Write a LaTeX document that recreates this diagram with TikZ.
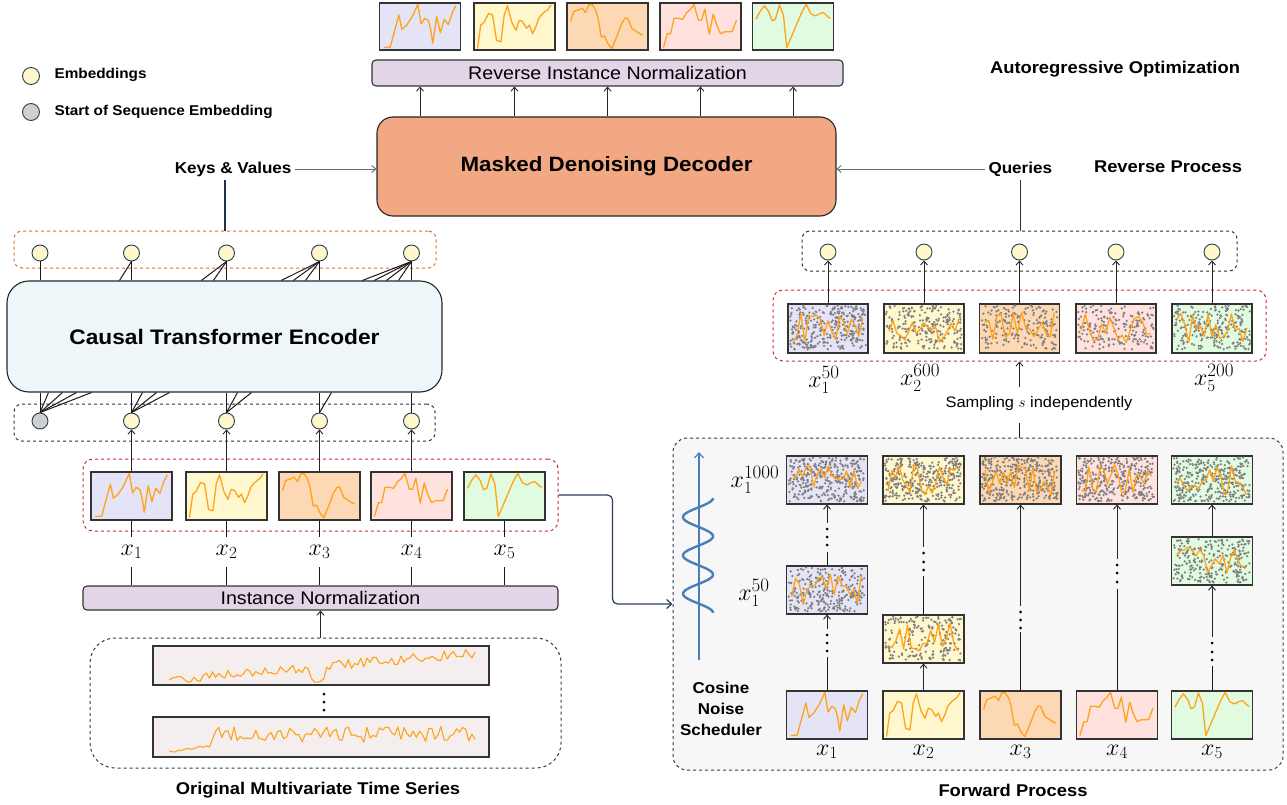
\RequirePackage{fix-cm}
\documentclass[tikz,border=0pt]{standalone}
\usepackage{fontspec}
\setmainfont{Liberation Sans}[FakeStretch=1.08]
\usetikzlibrary{arrows.meta,calc}

\definecolor{embd}{HTML}{2B3E50}
\definecolor{embf}{HTML}{FFF8CC}
\definecolor{sosf}{HTML}{D0D0D0}
\definecolor{decf}{HTML}{F2A882}
\definecolor{encf}{HTML}{EEF6FA}
\definecolor{normf}{HTML}{E1D5E7}
\definecolor{pblue}{HTML}{E4E4F6}
\definecolor{pyel}{HTML}{FFF7CE}
\definecolor{porg}{HTML}{FDD8B4}
\definecolor{ppink}{HTML}{FFE1DE}
\definecolor{pgrn}{HTML}{E0FBDF}
\definecolor{tsf}{HTML}{F4EEEE}
\definecolor{tsor}{HTML}{FFA31A}
\definecolor{noisec}{HTML}{7F7F7F}
\definecolor{reddash}{HTML}{D42A2A}
\definecolor{orgdash}{HTML}{E0692F}
\definecolor{navy}{HTML}{2A3F57}
\definecolor{wavec}{HTML}{4A7DBA}
\definecolor{fwdf}{HTML}{F7F7F7}
\definecolor{kqarr}{HTML}{5C6F80}
\definecolor{pbd}{HTML}{333333}

\tikzset{
  arr/.style={-{Straight Barb[length=4pt,width=7pt]}, line width=0.9pt, draw=black!85},
  plain/.style={line width=1pt, draw=black!90},
  emb/.style={circle, draw=embd, fill=embf, line width=0.9pt, minimum size=16pt, inner sep=0pt},
  sos/.style={emb, fill=sosf},
  patch/.style={draw=pbd, line width=1.1pt, minimum width=81pt, minimum height=48pt, inner sep=0pt},
  ts/.style={draw=tsor, line width=1.3pt, line join=round},
  normbar/.style={draw=pbd, line width=1.1pt, fill=normf, rounded corners=4pt, inner sep=0pt, font=\fontsize{18.2}{20}\selectfont},
  dashbox/.style={dashed, line width=1pt, rounded corners=8pt, inner sep=0pt},
  lab/.style={font=\fontsize{15.8}{18}\selectfont\bfseries},
  ttl/.style={font=\fontsize{17}{20}\selectfont\bfseries},
  legt/.style={font=\fontsize{14.2}{16}\selectfont\bfseries, anchor=west},
  xlab/.style={font=\fontsize{24}{28}\selectfont, inner sep=0pt, minimum height=30pt},
}
% label x_{sub}^{sup} with enlarged indices
\newcommand\subidx[1]{\mbox{\fontsize{17}{17}\selectfont$#1$}}
\newcommand\supidx[1]{\mbox{\fontsize{19}{19}\selectfont$#1$}}
\newcommand\xsub[1]{$x_{\subidx{#1}}$}
\newcommand\xsubsup[2]{$x_{\subidx{#1}}^{\supidx{#2}}$}

\newcommand\cvA{\draw[ts] (5.7,94) -- (13.9,93) -- (24.6,26) -- (28.3,56) -- (34.4,47) -- (40.6,31) -- (48,4) -- (52,45) -- (56.6,33) -- (61,38) -- (63.5,54) -- (66.4,85) -- (71.3,30) -- (75.8,63) -- (80.7,35) -- (85.7,46) -- (91,19) -- (95,7);}
\newcommand\cvB{\draw[ts] (5,96) -- (9,47) -- (13,42) -- (18.6,23) -- (23.6,26) -- (28.5,79) -- (33.9,82) -- (38,26) -- (42,7) -- (47.5,42) -- (52.5,58) -- (56.6,37) -- (60.7,40) -- (65.7,54) -- (69,47) -- (73,65) -- (77,51) -- (80.6,33) -- (85.5,23) -- (91.7,15) -- (95.9,5);}
\newcommand\cvC{\draw[ts] (5,40) -- (9,19) -- (15,15.5) -- (19.4,12) -- (23.5,21) -- (27.7,5) -- (31.8,5) -- (36,15.5) -- (39,33) -- (43,72) -- (47,70) -- (51.2,86) -- (56,96) -- (62,72) -- (68.2,44) -- (72.3,33) -- (75.6,33) -- (80.6,54) -- (86.8,61) -- (93.8,68);}
\newcommand\cvD{\draw[ts] (4.9,94) -- (9.8,65) -- (13.9,65) -- (18,33) -- (23.4,33) -- (28.7,35) -- (33.6,21) -- (37.7,15.5) -- (42.6,4) -- (48,37) -- (52,37) -- (56,14) -- (61.5,66) -- (66.4,24) -- (70.5,47) -- (75.4,65) -- (80.7,61) -- (86.9,61) -- (90,60) -- (95,37);}
\newcommand\cvE{\draw[ts] (5,35) -- (9.9,19) -- (15.3,7) -- (20.7,19) -- (24.8,38) -- (28.9,35) -- (33.9,5) -- (38.8,26) -- (43,94) -- (49.6,68) -- (56.6,40) -- (62,19) -- (67,4) -- (73,24) -- (78.5,28) -- (84.3,23) -- (88.4,21) -- (93.8,30) -- (96.7,33);}

\newcommand\mycurve[2]{\begin{scope}[shift={(#1.north west)},x=0.81pt,y=-0.48pt]#2\end{scope}}
\newcommand\mynoisy[3]{\begin{scope}[shift={(#1.north west)},x=0.81pt,y=-0.48pt]
  \foreach \k in {1,...,#2}{\fill[noisec] ({3+94*rnd},{4+92*rnd}) circle (1.25pt);}
  \draw[ts] plot[domain=7:93, samples=#3] (\x,{50+32*rand});
\end{scope}}

\begin{document}
\begin{tikzpicture}[x=1pt,y=-1pt]
\useasboundingbox[fill=white] (0,0) rectangle (1287,805);
\pgfmathsetseed{11}

% ---------------- legend & titles
\node[emb, minimum size=17pt] (lg1) at (31,76) {};
\node[legt] (lg1t) at (51,75) {Embeddings};
\node[sos, minimum size=17pt] (lg2) at (31,112) {};
\node[legt] (lg2t) at (51,112) {Start of Sequence Embedding};
\node[ttl] (tauto) at (1115,69) {Autoregressive Optimization};
\node[ttl] (trev) at (1168,167) {Reverse Process};
\node[ttl] (tfwd) at (1013,790) {Forward Process};
\node[ttl] (torig) at (318,790) {Original Multivariate Time Series};

% ---------------- top output plots and RIN
\foreach \i/\xx/\cc in {1/420/pblue,2/514.5/pyel,3/607.5/porg,4/700.5/ppink,5/793/pgrn}
  \node[patch, fill=\cc, minimum height=47pt] (o\i) at (\xx,26.5) {};
\mycurve{o1}{\cvA}\mycurve{o2}{\cvB}\mycurve{o3}{\cvC}\mycurve{o4}{\cvD}\mycurve{o5}{\cvE}
\node[normbar, minimum width=471pt, minimum height=26pt] (rin) at (607.5,73) {Reverse Instance Normalization};

% ---------------- decoder
\node[draw=black!85, line width=1.1pt, fill=decf, rounded corners=16pt, minimum width=459pt, minimum height=99pt, font=\fontsize{20.7}{24}\selectfont\bfseries] (dec) at (606.5,166.5) {Masked Denoising Decoder};
\foreach \i in {1,...,5} \draw[arr] (dec.north -| o\i.south) -- (rin.south -| o\i.south);

% ---------------- keys & values / queries
\node[lab, anchor=east] (kv) at (295,169) {Keys \& Values};
\node[lab, anchor=west] (qq) at (985,169) {Queries};
\draw[arr, draw=kqarr] (kv.east) -- (dec.west |- kv.east);
\draw[arr, draw=kqarr] (qq.west) -- (dec.east |- qq.west);

% ---------------- encoder
\node[draw=black!85, line width=1.1pt, fill=encf, rounded corners=22pt, minimum width=435pt, minimum height=111pt, font=\fontsize{21}{24}\selectfont\bfseries] (enc) at (224.5,336.5) {Causal Transformer Encoder};
\node[dashbox, draw=orgdash, minimum width=422pt, minimum height=37pt] (ob) at (225,249.5) {};
\node[dashbox, draw=black!80, minimum width=421pt, minimum height=37pt] (bb) at (224.5,422.5) {};
\draw[line width=1.4pt, draw=navy!80!black] (ob.north) -- (ob.north |- kv.south);

\foreach \i/\xx in {1/40,2/131.5,3/226.5,4/319.5,5/411.5}{
  \node[emb] (t\i) at (\xx,253) {};
}
\node[sos] (b1) at (40,421) {};
\foreach \i/\xx in {2/131.5,3/226.5,4/319.5,5/411.5}{
  \node[emb] (b\i) at (\xx,421) {};
}
\foreach \i in {1,...,5}{
  \draw[plain] (t\i.south) -- (t\i.south |- enc.north);
  \draw[plain] (b\i.north) -- (b\i.north |- enc.south);
}
\foreach \d in {113} \draw[plain] (t2.south) -- ($(enc.north west)+(\d,0)$);
\foreach \d in {195,207} \draw[plain] (t3.south) -- ($(enc.north west)+(\d,0)$);
\foreach \d in {275,287,299} \draw[plain] (t4.south) -- ($(enc.north west)+(\d,0)$);
\foreach \d in {356,368,380,392} \draw[plain] (t5.south) -- ($(enc.north west)+(\d,0)$);
\foreach \d in {42,56,70,85} \draw[plain] (b1.north) -- ($(enc.south west)+(\d,0)$);
\foreach \d in {136,150,163} \draw[plain] (b2.north) -- ($(enc.south west)+(\d,0)$);
\foreach \d in {231,245} \draw[plain] (b3.north) -- ($(enc.south west)+(\d,0)$);
\foreach \d in {325} \draw[plain] (b4.north) -- ($(enc.south west)+(\d,0)$);

% ---------------- left patches
\node[dashbox, draw=reddash, rounded corners=10pt, minimum width=475pt, minimum height=72pt] (lred) at (320.5,495) {};
\foreach \i/\xx/\cc in {1/131.5/pblue,2/226.5/pyel,3/319.5/porg,4/411.5/ppink,5/504.5/pgrn}{
  \node[patch, fill=\cc] (lp\i) at (\xx,496) {};
  \node[xlab] (lx\i) at (\xx,552) {\xsub{\i}};
}
\mycurve{lp1}{\cvA}\mycurve{lp2}{\cvB}\mycurve{lp3}{\cvC}\mycurve{lp4}{\cvD}\mycurve{lp5}{\cvE}
\foreach \i/\j in {1/2,2/3,3/4,4/5} \draw[arr] (lp\i.north) -- (b\j.south);

\node[normbar, minimum width=475pt, minimum height=24pt] (inn) at (320.5,598) {Instance Normalization};
\foreach \i in {1,...,5}{
  \draw[plain] (lp\i.south) -- (lx\i.north);
  \draw[plain] (lx\i.south) -- (lx\i.south |- inn.north);
}

% ---------------- original time series
\node[dashbox, draw=navy, rounded corners=25pt, minimum width=471pt, minimum height=130pt] (tsb) at (325.5,703) {};
\node[draw=pbd, line width=1.1pt, fill=tsf, minimum width=336pt, minimum height=39pt, inner sep=0pt] (s1) at (321,665.5) {};
\node[draw=pbd, line width=1.1pt, fill=tsf, minimum width=336pt, minimum height=40pt, inner sep=0pt] (s2) at (321,737) {};
\begin{scope}[shift={(s1.north west)},x=3.36pt,y=-0.39pt]
  \draw[ts, line width=1.1pt] plot[domain=5:96, samples=100] (\x,{max(6,min(94, 92-0.75*\x + 13*rand + 60*exp(-((\x-49)/2.2)^2)))});
\end{scope}
\begin{scope}[shift={(s2.north west)},x=3.36pt,y=-0.39pt]
  \draw[ts, line width=1.1pt] plot[domain=5:96, samples=100] (\x,{\x<17 ? 96-1.2*\x+3*rand : max(8,min(90,46+20*rand))});
\end{scope}
\foreach \yy in {694,702,710} \fill (324,\yy) circle (1.5pt);
\draw[arr] (tsb.north -| inn.south) -- (inn.south);

% ---------------- forward process box
\node[dashbox, draw=navy, fill=fwdf, rounded corners=14pt, minimum width=610pt, minimum height=332pt] (fwd) at (978,604) {};
\draw[line width=1.2pt, draw=navy, rounded corners=5pt, -{Straight Barb[length=5pt,width=9pt]}] (lred.east) -- ++(54,0) |- (fwd.west);

% wave + arrow
\coordinate (wa) at (699,660);
\coordinate (wb) at (699,452);
\draw[wavec, line width=1.2pt, -{Straight Barb[length=5pt,width=9pt]}] (wa) -- (wb);
\draw[wavec, line width=2.4pt] plot[domain=0:3, samples=150, smooth] ({698+15*cos(360*\x)},{498+38.3*\x});
\node[lab, align=center, font=\fontsize{15.7}{21}\selectfont\bfseries] (cns) at (721,709) {Cosine\\Noise\\Scheduler};

% forward patches
\foreach \i/\xx/\cc in {1/827/pblue,2/923.5/pyel,3/1020.5/porg,4/1117/ppink,5/1212/pgrn}{
  \node[patch, fill=\cc] (f\i) at (\xx,715) {};
  \node[patch, fill=\cc] (g\i) at (\xx,480) {};
  \node[xlab] (fx\i) at (\xx,752) {\xsub{\i}};
}
\mycurve{f1}{\cvA}\mycurve{f2}{\cvB}\mycurve{f3}{\cvC}\mycurve{f4}{\cvD}\mycurve{f5}{\cvE}
\foreach \i in {1,...,5} \mynoisy{g\i}{340}{20}
\node[patch, fill=pblue] (m1) at (827,590) {};
\node[patch, fill=pyel] (m2) at (923.5,639) {};
\node[patch, fill=pgrn] (m5) at (1212,561) {};
\mynoisy{m1}{270}{19}
\mynoisy{m2}{190}{19}
\mynoisy{m5}{260}{19}
\node[xlab] (xl1000) at (755,480) {\xsubsup{1}{1000}};
\node[xlab] (xl50) at (754,593) {\xsubsup{1}{50}};

% column connectors
\draw[plain] (f1.north) -- ++(0,-33);
\foreach \yy in {651,643,635} \fill (827,\yy) circle (1.5pt);
\draw[arr] ($(m1.south)+(0,14)$) -- (m1.south);
\draw[plain] (m1.north) -- ++(0,-13);
\foreach \yy in {545,537,529} \fill (827,\yy) circle (1.5pt);
\draw[arr] ($(g1.south)+(0,18)$) -- (g1.south);

\draw[arr] (f2.north) -- (m2.south);
\draw[plain] (m2.north) -- ++(0,-38);
\foreach \yy in {570,562,553} \fill (923.5,\yy) circle (1.5pt);
\draw[arr] ($(g2.south)+(0,42)$) -- (g2.south);

\draw[plain] (f3.north) -- ++(0,-58);
\foreach \yy in {628,620,612} \fill (1020.5,\yy) circle (1.5pt);
\draw[arr] ($(g3.south)+(0,101)$) -- (g3.south);

\draw[plain] (f4.north) -- ++(0,-101);
\foreach \yy in {582,573,565} \fill (1117,\yy) circle (1.5pt);
\draw[arr] ($(g4.south)+(0,54)$) -- (g4.south);

\draw[plain] (f5.north) -- ++(0,-24);
\foreach \yy in {660,652,643} \fill (1212,\yy) circle (1.5pt);
\draw[arr] ($(m5.south)+(0,51)$) -- (m5.south);
\draw[arr] (m5.north) -- (g5.south);

% ---------------- reverse process (sampled)
\node[dashbox, draw=black!80, minimum width=435pt, minimum height=40pt] (rb) at (1019.5,251) {};
\node[dashbox, draw=reddash, rounded corners=10pt, minimum width=493pt, minimum height=71pt] (rr) at (1019.5,325.5) {};
\foreach \i/\xx/\cc in {1/828/pblue,2/924/pyel,3/1019.5/porg,4/1116/ppink,5/1212/pgrn}{
  \node[patch, fill=\cc, minimum width=80pt, minimum height=49pt] (n\i) at (\xx,328.5) {};
  \node[emb] (r\i) at (\xx,252) {};
  \draw[arr] (n\i.north) -- (r\i.south);
}
\mynoisy{n1}{300}{19}
\mynoisy{n2}{230}{19}
\mynoisy{n3}{190}{18}
\mynoisy{n4}{190}{18}
\mynoisy{n5}{240}{19}
\draw[line width=1.4pt, draw=navy!80!black] (rb.north -| qq.south) -- (qq.south);
\node[xlab] (nl1) at (824,380) {\xsubsup{1}{50}};
\node[xlab] (nl2) at (920,378) {\xsubsup{2}{600}};
\node[xlab] (nl5) at (1214,378) {\xsubsup{5}{200}};
\node[font=\fontsize{15.2}{17}\selectfont] (samp) at (1039,404) {Sampling $s$ independently};
\draw[arr] ($(rr.south)+(0,25)$) -- (rr.south);
\draw[plain] (fwd.north -| rr.south) -- ++(0,-15);
\end{tikzpicture}
\end{document}
